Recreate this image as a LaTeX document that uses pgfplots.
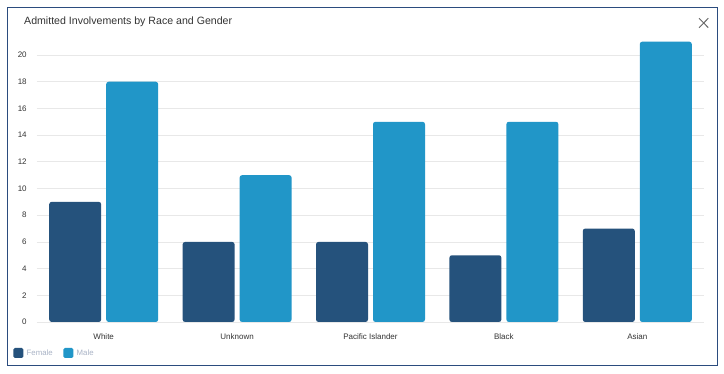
\documentclass[border=0pt]{standalone}
\usepackage{fontspec}
\setmainfont{Liberation Sans}
\usepackage{pgfplots}
\pgfplotsset{compat=1.18}
\definecolor{female}{HTML}{25527C}
\definecolor{male}{HTML}{2196C8}
\definecolor{framec}{HTML}{2B4C7E}
\definecolor{gridc}{HTML}{E8E8E8}
\definecolor{legc}{HTML}{A9B3C6}
\definecolor{txt}{HTML}{333333}
\begin{document}
\begin{tikzpicture}
\path[use as bounding box] (0,0) rectangle (724pt,374pt);
\fill[white] (0,0) rectangle (724pt,374pt);
\draw[framec, line width=1pt] (7.3pt,8.8pt) rectangle (717.7pt,366.7pt);
\node[anchor=base west, inner sep=0pt, font=\fontsize{10.6pt}{12pt}\selectfont, text=txt] at (24pt,349.2pt) {Admitted Involvements by Race and Gender};
\draw[gray!80!black, line width=0.9pt] (699pt,355.7pt) -- (708.3pt,346.3pt);
\draw[gray!80!black, line width=0.9pt] (699pt,346.3pt) -- (708.3pt,355.7pt);
\begin{axis}[
  at={(37pt,52pt)}, anchor=south west,
  scale only axis, width=667pt, height=287pt,
  xmin=-0.5, xmax=4.5, ymin=0, ymax=21.5,
  axis line style={draw=none},
  major tick length=0pt,
  xtick={0,1,2,3,4},
  xticklabels={White,Unknown,Pacific Islander,Black,Asian},
  ytick={0,2,...,20},
  ymajorgrids, grid style={gridc, line width=0.7pt},
  /pgf/number format/assume math mode=true,
  ticklabel style={font=\fontsize{8pt}{9.6pt}\selectfont, text=txt},
  xticklabel style={yshift=-8.5pt},
  yticklabel style={xshift=-6.8pt},
  legend style={at={(0,0)}, anchor=west, xshift=-23.7pt, yshift=-31pt,
    draw=none, fill=none, inner sep=0pt, outer sep=0pt,
    legend columns=-1,
    nodes={inner sep=0pt, font=\fontsize{7.8pt}{9pt}\selectfont, text=legc},
    /tikz/every odd column/.append style={column sep=3.4pt},
    /tikz/every even column/.append style={column sep=10.6pt}},
  legend image code/.code={\fill[#1, rounded corners=1.5pt] (0pt,-5pt) rectangle (10pt,5pt);},
]
\addplot[ybar, bar width=52pt, bar shift=-28.5pt, fill=female, draw=none, rounded corners=2.5pt]
  coordinates {(0,9) (1,6) (2,6) (3,5) (4,7)};
\addlegendentry{Female}
\addplot[ybar, bar width=52pt, bar shift=28.5pt, fill=male, draw=none, rounded corners=2.5pt]
  coordinates {(0,18) (1,11) (2,15) (3,15) (4,21)};
\addlegendentry{Male}
\end{axis}
\end{tikzpicture}
\end{document}
